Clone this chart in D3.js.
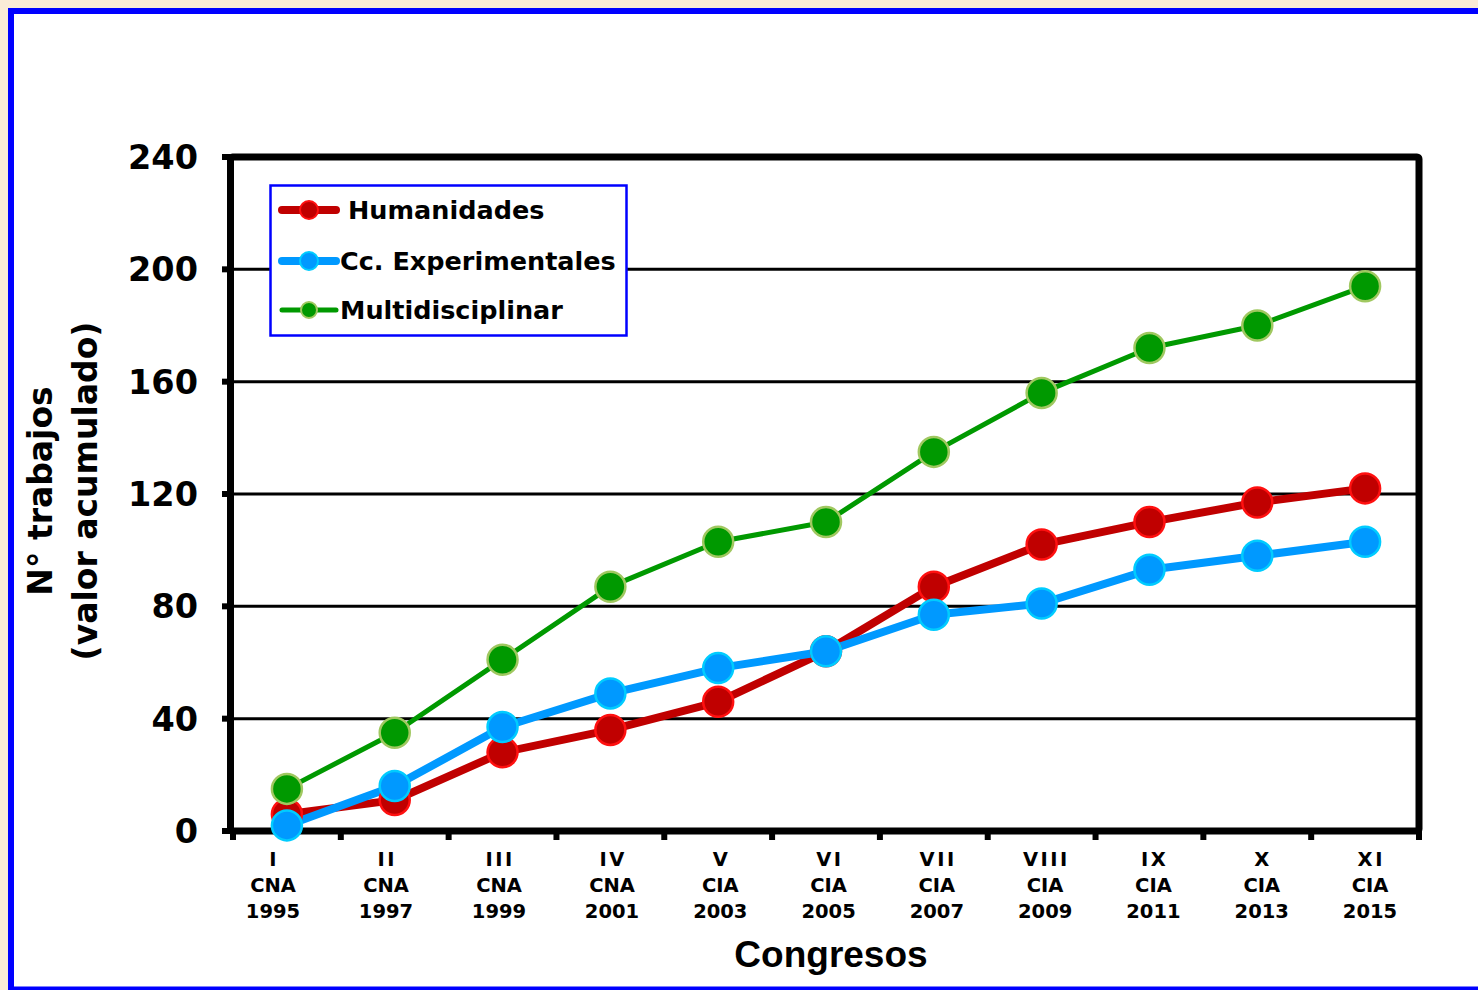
<!DOCTYPE html>
<html>
<head>
<meta charset="utf-8">
<script src="https://cdn.jsdelivr.net/npm/d3@7"></script>
<style>
  html, body { margin: 0; padding: 0; background: #FAEBD7; }
  svg { display: block; }
</style>
</head>
<body>
<svg id="chart" width="1478" height="990"></svg>
<script>
// ---- Data ----
const categories = ["I|CNA|1995","II|CNA|1997","III|CNA|1999","IV|CNA|2001","V|CIA|2003","VI|CIA|2005","VII|CIA|2007","VIII|CIA|2009","IX|CIA|2011","X|CIA|2013","XI|CIA|2015"];
const humanidades = [6, 11, 28, 36, 46, 64, 87, 102, 110, 117, 122];
const experimentales = [2, 16, 37, 49, 58, 64, 77, 81, 93, 98, 103];
const multidisciplinar = [15, 35, 61, 87, 103, 110, 135, 156, 172, 180, 194];
const yTicks = [0, 40, 80, 120, 160, 200, 240];
const seriesNames = ["Humanidades", "Cc. Experimentales", "Multidisciplinar"];

const series = [
  {name: seriesNames[0], values: humanidades, line: "#C00000", fill: "#C00000", stroke: "#FF1010", lw: 8, r: 15, lr: 9},
  {name: seriesNames[1], values: experimentales, line: "#0099FF", fill: "#0099FF", stroke: "#00CCFF", lw: 8, r: 15, lr: 9},
  {name: seriesNames[2], values: multidisciplinar, line: "#009900", fill: "#009900", stroke: "#A0C860", lw: 5, r: 15, lr: 8}
];

const svg = d3.select("#chart");
const W = 1478, H = 990;

// Blue outer frame with white inside
svg.append("rect").attr("x", 8).attr("y", 8).attr("width", W + 20).attr("height", H - 8)
  .attr("fill", "#FFFFFF");
svg.append("rect").attr("x", 11).attr("y", 11).attr("width", W + 20).attr("height", H)
  .attr("fill", "none").attr("stroke", "#0000FF").attr("stroke-width", 6);
svg.append("line").attr("x1", 8).attr("x2", W).attr("y1", 988.5).attr("y2", 988.5)
  .attr("stroke", "#0000FF").attr("stroke-width", 4);

const pLeft = 230.5, pRight = 1419, pTop = 157, pBottom = 831;

const x = d3.scaleBand().domain(categories).range([233, pRight]);
// label positions follow the (slightly uneven) placement in the source chart
const xLabelIdx = d3.scaleLinear().domain([0, 3, 10]).range([273, 612, 1370]);
const xLabel = c => xLabelIdx(categories.indexOf(c));
const y = d3.scaleLinear().domain([0, 240]).range([pBottom, pTop]);

// Gridlines
svg.append("g").selectAll("line").data(yTicks.filter(t => t > 0 && t < 240)).join("line")
  .attr("x1", pLeft).attr("x2", pRight)
  .attr("y1", d => y(d)).attr("y2", d => y(d))
  .attr("stroke", "#000").attr("stroke-width", 3);

// Y axis ticks (outward)
svg.append("g").selectAll("line").data(yTicks).join("line")
  .attr("x1", 222).attr("x2", pLeft)
  .attr("y1", d => y(d)).attr("y2", d => y(d))
  .attr("stroke", "#000").attr("stroke-width", 6);

// X axis ticks at band boundaries
const edges = categories.map(c => x(c)).concat([pRight]);
svg.append("g").selectAll("line").data(edges).join("line")
  .attr("x1", d => d).attr("x2", d => d)
  .attr("y1", pBottom).attr("y2", pBottom + 9)
  .attr("stroke", "#000").attr("stroke-width", 6);

// Plot frame
svg.append("rect").attr("x", pLeft).attr("y", pTop)
  .attr("width", pRight - pLeft).attr("height", pBottom - pTop)
  .attr("fill", "none").attr("stroke", "#000").attr("stroke-width", 7)
  .attr("rx", 2);

// Y tick labels
svg.append("g").selectAll("text").data(yTicks).join("text")
  .attr("x", 198).attr("y", d => y(d)).attr("dy", "0.36em")
  .attr("text-anchor", "end")
  .attr("font-family", "DejaVu Sans").attr("font-weight", "bold").attr("font-size", 33.5)
  .attr("fill", "#000").text(d => d);

// X tick labels (3 lines)
const xl = svg.append("g").selectAll("text").data(categories).join("text")
  .attr("text-anchor", "middle")
  .attr("font-family", "DejaVu Sans").attr("font-weight", "bold").attr("font-size", 19.5)
  .attr("fill", "#000");
xl.each(function(c) {
  const parts = c.split("|");
  d3.select(this).selectAll("tspan").data(parts).join("tspan")
    .attr("x", xLabel(c)).attr("y", (d, i) => 866 + i * 26)
    .attr("letter-spacing", (d, i) => i === 0 ? 2.5 : 0)
    .attr("dx", (d, i) => i === 0 ? 1.25 : 0)
    .text(d => d);
});

// Axis titles
svg.append("text").attr("x", 831).attr("y", 967).attr("text-anchor", "middle")
  .attr("font-family", "Liberation Sans, Arial, sans-serif").attr("font-weight", "bold")
  .attr("font-size", 37).attr("fill", "#000").text("Congresos");

const yt = svg.append("text").attr("transform", "translate(0,491) rotate(-90)")
  .attr("text-anchor", "middle")
  .attr("font-family", "DejaVu Sans").attr("font-weight", "bold").attr("font-size", 33)
  .attr("fill", "#000");
yt.append("tspan").attr("x", 0).attr("y", 52).text("N° trabajos");
yt.append("tspan").attr("x", 0).attr("y", 97).text("(valor acumulado)");

// Lines and markers
const cx = (i) => x(categories[i]) + x.bandwidth() / 2;
const line = d3.line().x((d, i) => cx(i)).y(d => y(d));

series.forEach(s => {
  svg.append("path").datum(s.values).attr("d", line)
    .attr("fill", "none").attr("stroke", s.line).attr("stroke-width", s.lw)
    .attr("stroke-linejoin", "round");
});
series.forEach(s => {
  svg.append("g").selectAll("circle").data(s.values).join("circle")
    .attr("cx", (d, i) => cx(i)).attr("cy", d => y(d)).attr("r", s.r)
    .attr("fill", s.fill).attr("stroke", s.stroke).attr("stroke-width", 2.5);
});

// Legend
const lg = svg.append("g");
lg.append("rect").attr("x", 270.5).attr("y", 185.5).attr("width", 356).attr("height", 150)
  .attr("fill", "#FFFFFF").attr("stroke", "#0000FF").attr("stroke-width", 2.5);
const legendY = [210, 261, 310];
const legendTextX = [348, 340, 340];
series.forEach((s, i) => {
  lg.append("line").attr("x1", 282).attr("x2", 336).attr("y1", legendY[i]).attr("y2", legendY[i])
    .attr("stroke", s.line).attr("stroke-width", s.lw).attr("stroke-linecap", "round");
  lg.append("circle").attr("cx", 309).attr("cy", legendY[i]).attr("r", s.lr)
    .attr("fill", s.fill).attr("stroke", s.stroke).attr("stroke-width", 2);
  lg.append("text").attr("x", legendTextX[i]).attr("y", legendY[i]).attr("dy", "0.36em")
    .attr("font-family", "DejaVu Sans").attr("font-weight", "bold").attr("font-size", 25.5)
    .attr("fill", "#000").text(s.name);
});
</script>
</body>
</html>
